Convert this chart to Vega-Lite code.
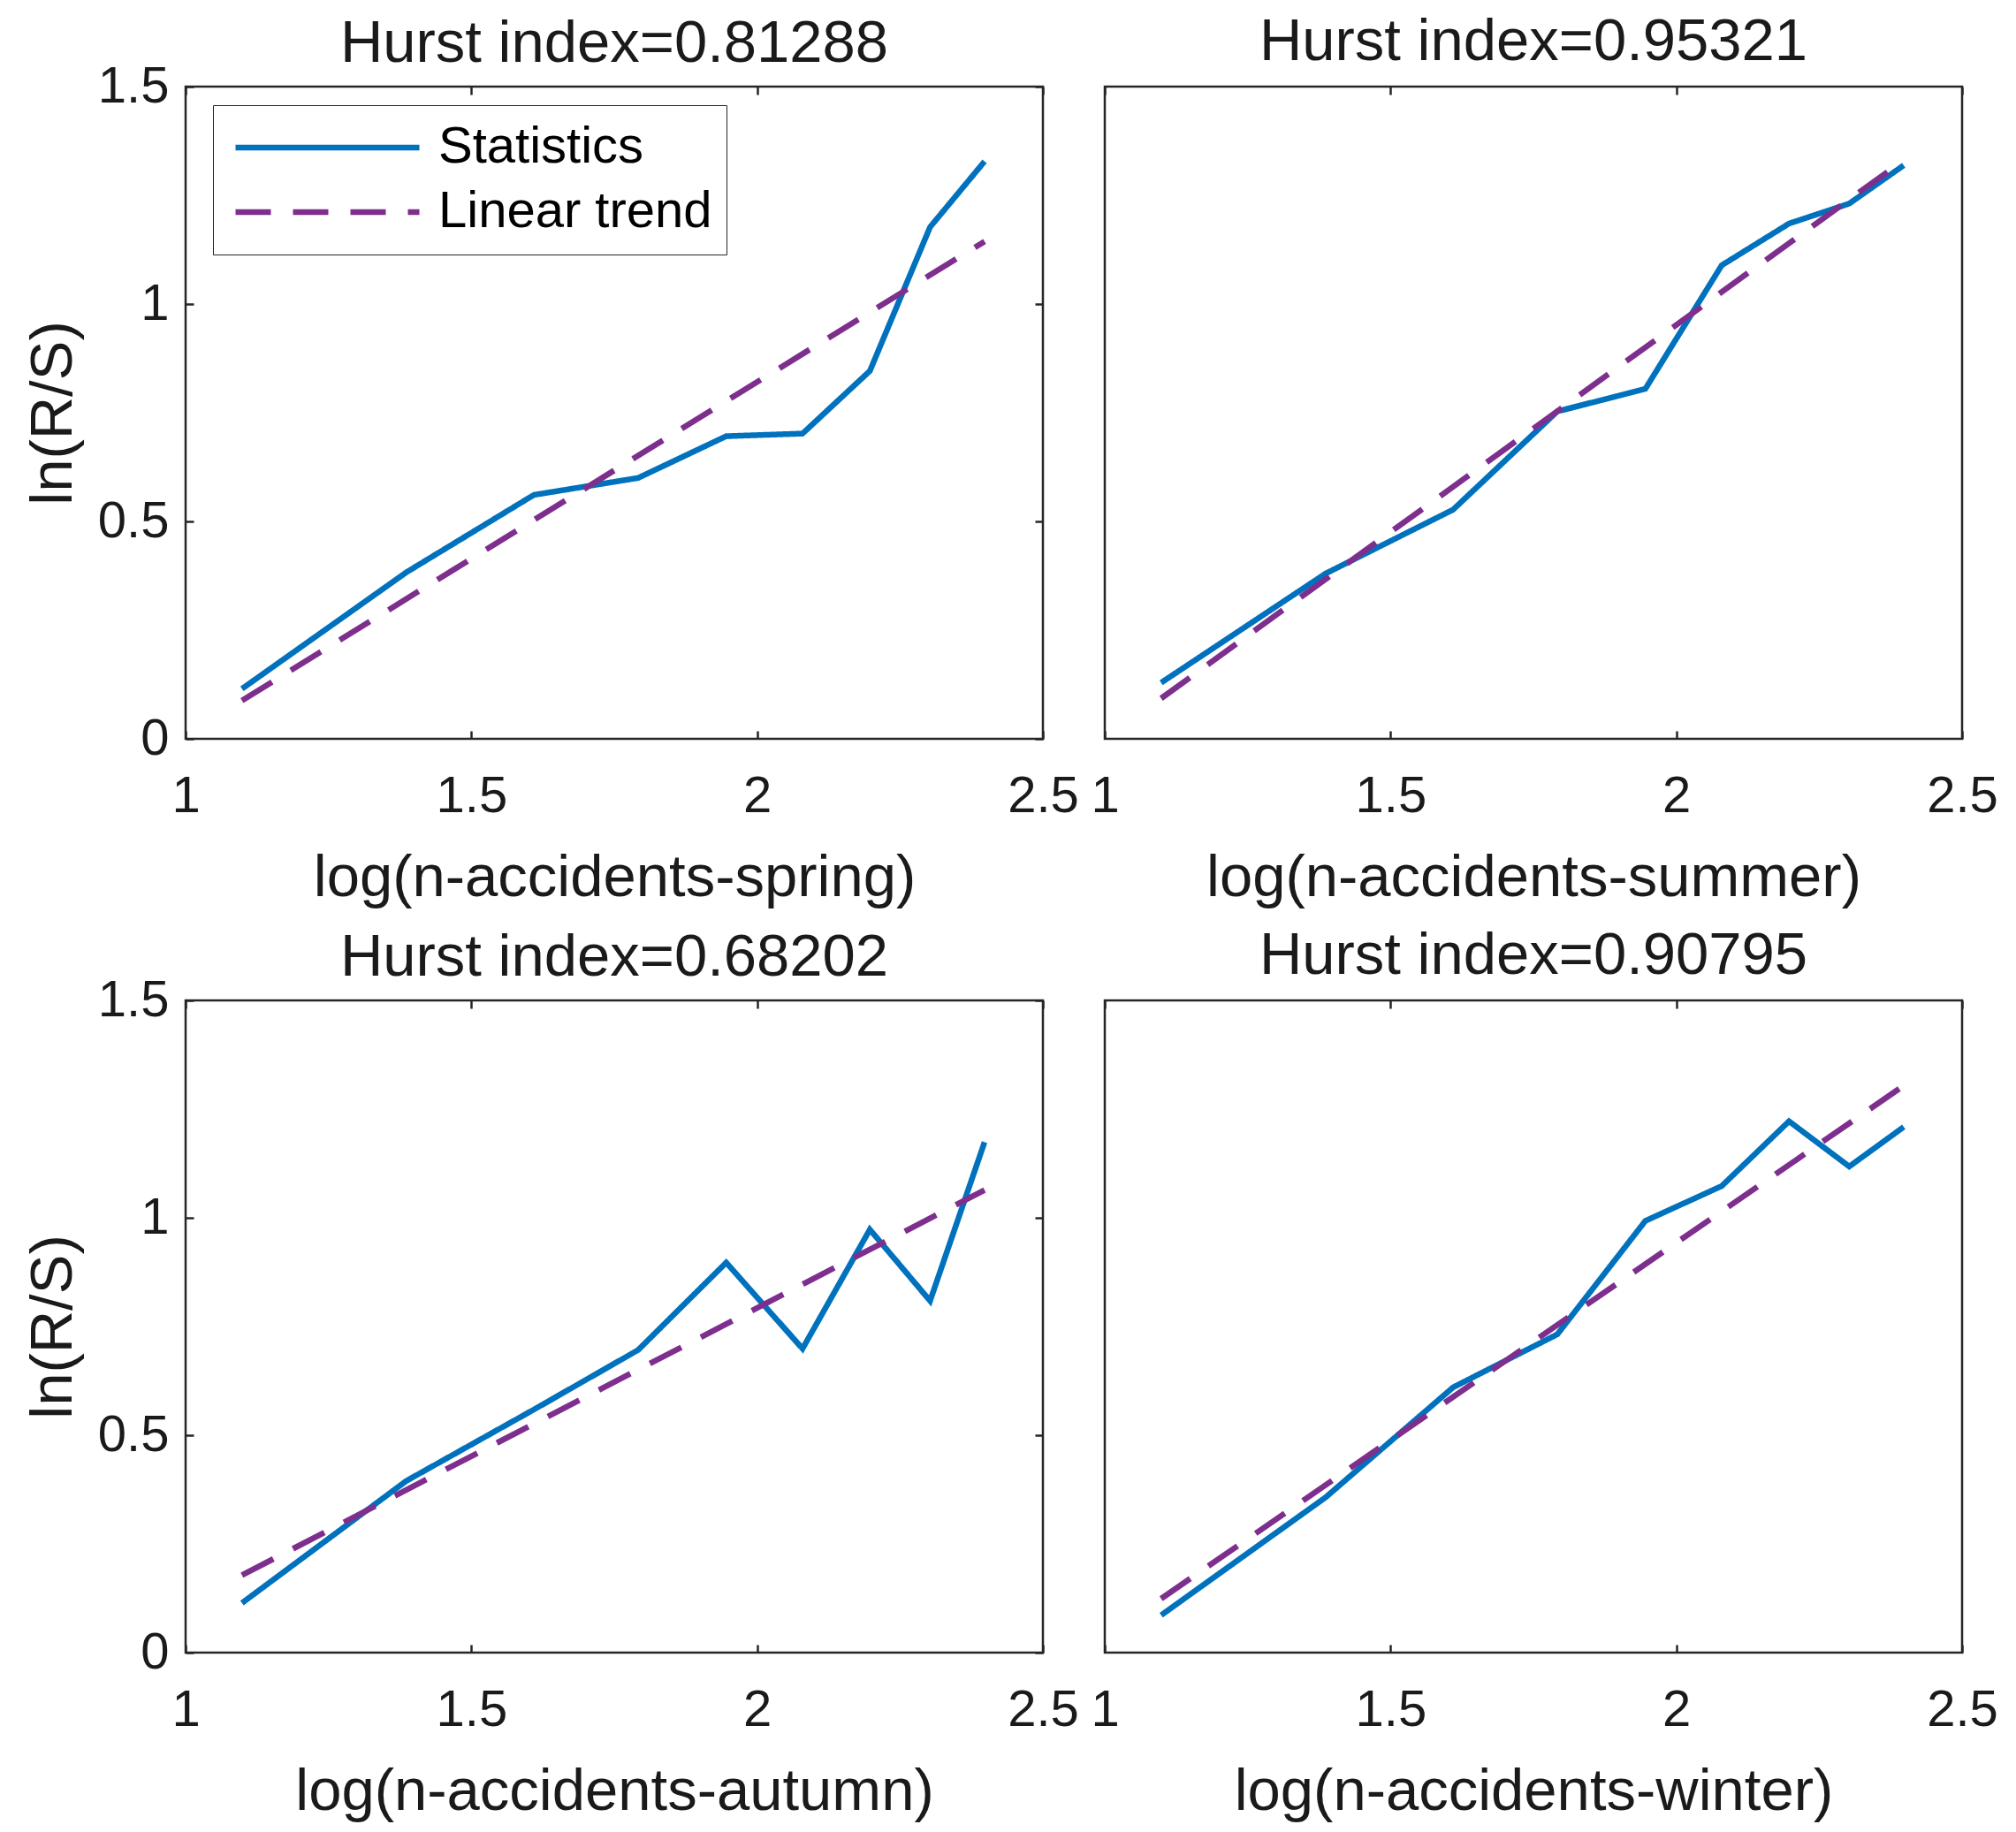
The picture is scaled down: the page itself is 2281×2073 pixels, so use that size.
{
  "$schema": "https://vega.github.io/schema/vega-lite/v6.json",
  "background": "white",
  "padding": {"left": 25, "top": 12, "right": 5, "bottom": 5},
  "datasets": {
    "rs": [
      {"s": "spring", "series": "Statistics", "x": 1.0986, "y": 0.115},
      {"s": "spring", "series": "Statistics", "x": 1.3863, "y": 0.383},
      {"s": "spring", "series": "Statistics", "x": 1.6094, "y": 0.561},
      {"s": "spring", "series": "Statistics", "x": 1.7918, "y": 0.600},
      {"s": "spring", "series": "Statistics", "x": 1.9459, "y": 0.696},
      {"s": "spring", "series": "Statistics", "x": 2.0794, "y": 0.702},
      {"s": "spring", "series": "Statistics", "x": 2.1972, "y": 0.846},
      {"s": "spring", "series": "Statistics", "x": 2.3026, "y": 1.177},
      {"s": "spring", "series": "Statistics", "x": 2.3979, "y": 1.328},
      {"s": "spring", "series": "Linear trend", "x": 1.0986, "y": 0.088},
      {"s": "spring", "series": "Linear trend", "x": 2.3979, "y": 1.144},
      {"s": "summer", "series": "Statistics", "x": 1.0986, "y": 0.129},
      {"s": "summer", "series": "Statistics", "x": 1.3863, "y": 0.380},
      {"s": "summer", "series": "Statistics", "x": 1.6094, "y": 0.527},
      {"s": "summer", "series": "Statistics", "x": 1.7918, "y": 0.753},
      {"s": "summer", "series": "Statistics", "x": 1.9459, "y": 0.805},
      {"s": "summer", "series": "Statistics", "x": 2.0794, "y": 1.089},
      {"s": "summer", "series": "Statistics", "x": 2.1972, "y": 1.185},
      {"s": "summer", "series": "Statistics", "x": 2.3026, "y": 1.231},
      {"s": "summer", "series": "Statistics", "x": 2.3979, "y": 1.319},
      {"s": "summer", "series": "Linear trend", "x": 1.0986, "y": 0.093},
      {"s": "summer", "series": "Linear trend", "x": 2.3979, "y": 1.331},
      {"s": "autumn", "series": "Statistics", "x": 1.0986, "y": 0.114},
      {"s": "autumn", "series": "Statistics", "x": 1.3863, "y": 0.395},
      {"s": "autumn", "series": "Statistics", "x": 1.6094, "y": 0.559},
      {"s": "autumn", "series": "Statistics", "x": 1.7918, "y": 0.696},
      {"s": "autumn", "series": "Statistics", "x": 1.9459, "y": 0.897},
      {"s": "autumn", "series": "Statistics", "x": 2.0794, "y": 0.699},
      {"s": "autumn", "series": "Statistics", "x": 2.1972, "y": 0.973},
      {"s": "autumn", "series": "Statistics", "x": 2.3026, "y": 0.809},
      {"s": "autumn", "series": "Statistics", "x": 2.3979, "y": 1.174},
      {"s": "autumn", "series": "Linear trend", "x": 1.0986, "y": 0.178},
      {"s": "autumn", "series": "Linear trend", "x": 2.3979, "y": 1.064},
      {"s": "winter", "series": "Statistics", "x": 1.0986, "y": 0.086},
      {"s": "winter", "series": "Statistics", "x": 1.3863, "y": 0.357},
      {"s": "winter", "series": "Statistics", "x": 1.6094, "y": 0.610},
      {"s": "winter", "series": "Statistics", "x": 1.7918, "y": 0.732},
      {"s": "winter", "series": "Statistics", "x": 1.9459, "y": 0.993},
      {"s": "winter", "series": "Statistics", "x": 2.0794, "y": 1.073},
      {"s": "winter", "series": "Statistics", "x": 2.1972, "y": 1.222},
      {"s": "winter", "series": "Statistics", "x": 2.3026, "y": 1.118},
      {"s": "winter", "series": "Statistics", "x": 2.3979, "y": 1.209},
      {"s": "winter", "series": "Linear trend", "x": 1.0986, "y": 0.124},
      {"s": "winter", "series": "Linear trend", "x": 2.3979, "y": 1.304}
    ]
  },
  "data": {"name": "rs"},
  "columns": 2,
  "bounds": "flush",
  "spacing": {"row": 296, "column": 70},
  "resolve": {"scale": {"color": "independent", "strokeDash": "independent"}},
  "config": {
    "font": "Liberation Sans",
    "view": {"stroke": "#262626", "strokeWidth": 2.5},
    "axis": {
      "grid": false, "domain": false, "tickColor": "#262626", "tickWidth": 2.5, "tickSize": -9,
      "labelFontSize": 58, "labelColor": "#1a1a1a", "titleFontSize": 67, "titleFontWeight": "normal",
      "titleColor": "#1a1a1a", "labelFlush": false, "labelOverlap": false, "format": "~g"
    },
    "axisX": {"labelPadding": 45, "titlePadding": 30},
    "axisY": {"labelPadding": 28, "titlePadding": 16},
    "title": {"fontSize": 67, "fontWeight": "normal", "color": "#1a1a1a", "anchor": "middle"}
  },
  "concat": [
    {
      "width": 970, "height": 738,
      "title": {"text": "Hurst index=0.81288", "offset": -15},
      "transform": [{"filter": "datum.s === 'spring'"}],
      "layer": [
        {
          "mark": {"type": "line", "strokeWidth": 6.5, "clip": true},
          "encoding": {
            "x": {"field": "x", "type": "quantitative", "scale": {"domain": [1, 2.5], "nice": false, "zero": false},
                  "axis": {"orient": "bottom", "values": [1, 1.5, 2, 2.5], "title": "log(n-accidents-spring)"}},
            "y": {"field": "y", "type": "quantitative", "scale": {"domain": [0, 1.5], "nice": false, "zero": false},
                  "axis": {"orient": "left", "values": [0, 0.5, 1, 1.5], "title": "ln(R/S)"}},
            "color": {"field": "series", "type": "nominal",
                      "scale": {"domain": ["Statistics", "Linear trend"], "range": ["#0072BD", "#7E2F8E"]},
                      "legend": {"title": null, "orient": "none", "legendX": 31, "legendY": 21, "symbolType": "stroke",
                                 "symbolSize": 43264, "symbolStrokeWidth": 6.5, "labelFontSize": 58, "labelColor": "#000000",
                                 "labelLimit": 800, "clipHeight": 64, "rowPadding": 9, "labelOffset": 18, "padding": 16,
                                 "symbolOffset": 6, "strokeColor": "#262626", "fillColor": "white"}},
            "strokeDash": {"field": "series", "type": "nominal",
                           "scale": {"domain": ["Statistics", "Linear trend"], "range": [[1, 0], [40, 25]]},
                           "legend": {"title": null, "orient": "none", "legendX": 31, "legendY": 21, "symbolType": "stroke",
                                      "symbolSize": 43264, "symbolStrokeWidth": 6.5, "labelFontSize": 58, "labelColor": "#000000",
                                      "labelLimit": 800, "clipHeight": 64, "rowPadding": 9, "labelOffset": 18, "padding": 16,
                                      "symbolOffset": 6, "strokeColor": "#262626", "fillColor": "white"}}
          }
        },
        {
          "mark": {"type": "point", "opacity": 0},
          "encoding": {
            "x": {"field": "x", "type": "quantitative", "scale": {"domain": [1, 2.5], "nice": false, "zero": false},
                  "axis": {"orient": "top", "values": [1, 1.5, 2, 2.5], "labels": false, "title": null}},
            "y": {"field": "y", "type": "quantitative", "scale": {"domain": [0, 1.5], "nice": false, "zero": false},
                  "axis": {"orient": "right", "values": [0, 0.5, 1, 1.5], "labels": false, "title": null}}
          }
        }
      ],
      "resolve": {"axis": {"x": "independent", "y": "independent"}}
    },
    {
      "width": 970, "height": 738,
      "title": {"text": "Hurst index=0.95321", "offset": 15},
      "transform": [{"filter": "datum.s === 'summer'"}],
      "layer": [
        {
          "mark": {"type": "line", "strokeWidth": 6.5, "clip": true},
          "encoding": {
            "x": {"field": "x", "type": "quantitative", "scale": {"domain": [1, 2.5], "nice": false, "zero": false},
                  "axis": {"orient": "bottom", "values": [1, 1.5, 2, 2.5], "title": "log(n-accidents-summer)"}},
            "y": {"field": "y", "type": "quantitative", "scale": {"domain": [0, 1.5], "nice": false, "zero": false},
                  "axis": null},
            "color": {"field": "series", "type": "nominal",
                      "scale": {"domain": ["Statistics", "Linear trend"], "range": ["#0072BD", "#7E2F8E"]}, "legend": null},
            "strokeDash": {"field": "series", "type": "nominal",
                           "scale": {"domain": ["Statistics", "Linear trend"], "range": [[1, 0], [40, 25]]}, "legend": null}
          }
        },
        {
          "mark": {"type": "point", "opacity": 0},
          "encoding": {
            "x": {"field": "x", "type": "quantitative", "scale": {"domain": [1, 2.5], "nice": false, "zero": false},
                  "axis": {"orient": "top", "values": [1, 1.5, 2, 2.5], "labels": false, "title": null}},
            "y": {"field": "y", "type": "quantitative", "scale": {"domain": [0, 1.5], "nice": false, "zero": false}, "axis": null}
          }
        }
      ],
      "resolve": {"axis": {"x": "independent", "y": "independent"}}
    },
    {
      "width": 970, "height": 738,
      "title": {"text": "Hurst index=0.68202", "offset": -15},
      "transform": [{"filter": "datum.s === 'autumn'"}],
      "layer": [
        {
          "mark": {"type": "line", "strokeWidth": 6.5, "clip": true},
          "encoding": {
            "x": {"field": "x", "type": "quantitative", "scale": {"domain": [1, 2.5], "nice": false, "zero": false},
                  "axis": {"orient": "bottom", "values": [1, 1.5, 2, 2.5], "title": "log(n-accidents-autumn)"}},
            "y": {"field": "y", "type": "quantitative", "scale": {"domain": [0, 1.5], "nice": false, "zero": false},
                  "axis": {"orient": "left", "values": [0, 0.5, 1, 1.5], "title": "ln(R/S)"}},
            "color": {"field": "series", "type": "nominal",
                      "scale": {"domain": ["Statistics", "Linear trend"], "range": ["#0072BD", "#7E2F8E"]}, "legend": null},
            "strokeDash": {"field": "series", "type": "nominal",
                           "scale": {"domain": ["Statistics", "Linear trend"], "range": [[1, 0], [40, 25]]}, "legend": null}
          }
        },
        {
          "mark": {"type": "point", "opacity": 0},
          "encoding": {
            "x": {"field": "x", "type": "quantitative", "scale": {"domain": [1, 2.5], "nice": false, "zero": false},
                  "axis": {"orient": "top", "values": [1, 1.5, 2, 2.5], "labels": false, "title": null}},
            "y": {"field": "y", "type": "quantitative", "scale": {"domain": [0, 1.5], "nice": false, "zero": false},
                  "axis": {"orient": "right", "values": [0, 0.5, 1, 1.5], "labels": false, "title": null}}
          }
        }
      ],
      "resolve": {"axis": {"x": "independent", "y": "independent"}}
    },
    {
      "width": 970, "height": 738,
      "title": {"text": "Hurst index=0.90795", "offset": 15},
      "transform": [{"filter": "datum.s === 'winter'"}],
      "layer": [
        {
          "mark": {"type": "line", "strokeWidth": 6.5, "clip": true},
          "encoding": {
            "x": {"field": "x", "type": "quantitative", "scale": {"domain": [1, 2.5], "nice": false, "zero": false},
                  "axis": {"orient": "bottom", "values": [1, 1.5, 2, 2.5], "title": "log(n-accidents-winter)"}},
            "y": {"field": "y", "type": "quantitative", "scale": {"domain": [0, 1.5], "nice": false, "zero": false},
                  "axis": null},
            "color": {"field": "series", "type": "nominal",
                      "scale": {"domain": ["Statistics", "Linear trend"], "range": ["#0072BD", "#7E2F8E"]}, "legend": null},
            "strokeDash": {"field": "series", "type": "nominal",
                           "scale": {"domain": ["Statistics", "Linear trend"], "range": [[1, 0], [40, 25]]}, "legend": null}
          }
        },
        {
          "mark": {"type": "point", "opacity": 0},
          "encoding": {
            "x": {"field": "x", "type": "quantitative", "scale": {"domain": [1, 2.5], "nice": false, "zero": false},
                  "axis": {"orient": "top", "values": [1, 1.5, 2, 2.5], "labels": false, "title": null}},
            "y": {"field": "y", "type": "quantitative", "scale": {"domain": [0, 1.5], "nice": false, "zero": false}, "axis": null}
          }
        }
      ],
      "resolve": {"axis": {"x": "independent", "y": "independent"}}
    }
  ]
}
